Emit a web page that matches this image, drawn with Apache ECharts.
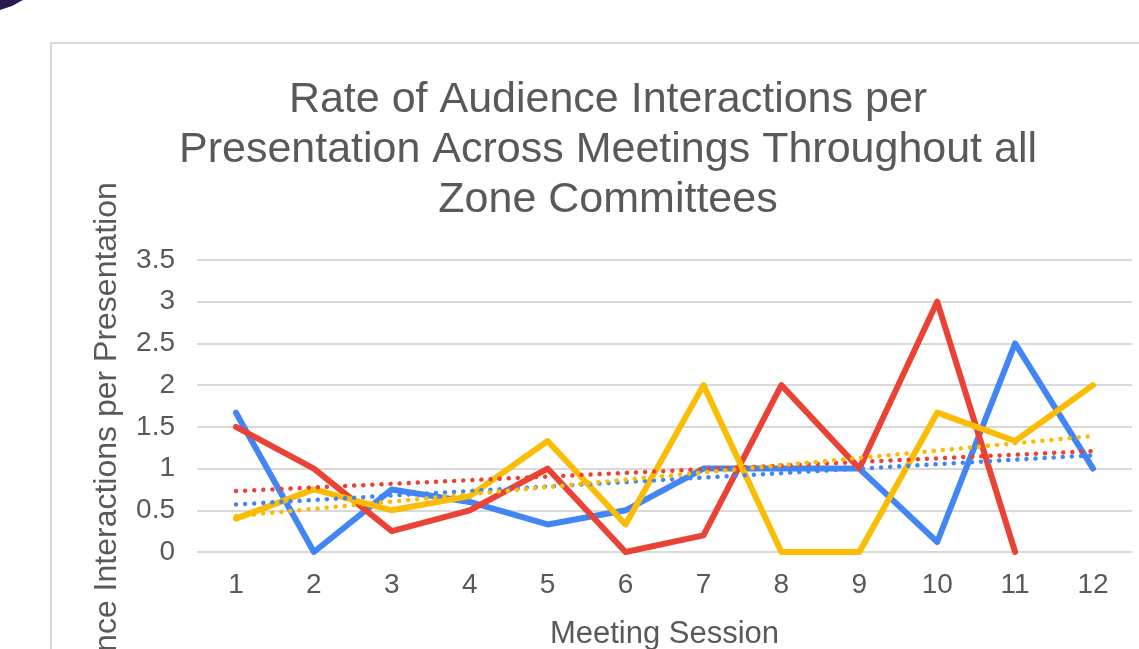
<!DOCTYPE html>
<html>
<head>
<meta charset="utf-8">
<script src="https://cdn.jsdelivr.net/npm/echarts@6/dist/echarts.min.js"></script>
<style>
  html, body { margin: 0; padding: 0; background: #fff; }
  #main { width: 1139px; height: 649px; }
</style>
</head>
<body>
<div id="main"></div>
<script>
// meeting sessions on the x axis
const sessions = ["1", "2", "3", "4", "5", "6", "7", "8", "9", "10", "11", "12"];

// rate per presentation, one list per committee line
const blueRates = [1.67, 0, 0.75, 0.6, 0.33, 0.5, 1, 1, 1, 0.12, 2.5, 1];
const redRates = [1.5, 1, 0.25, 0.5, 1, 0, 0.2, 2, 1, 3, 0, null];
const yellowRates = [0.4, 0.75, 0.5, 0.67, 1.33, 0.33, 2, 0, 0, 1.67, 1.33, 2];

// dotted trendlines, start value at session 1 and end value at session 12
const blueTrend = [0.57, 1.16];
const redTrend = [0.73, 1.21];
const yellowTrend = [0.43, 1.39];

const yTicks = [0, 0.5, 1, 1.5, 2, 2.5, 3, 3.5];

const textColor = "#595959";
const font = "'Liberation Sans', Arial, sans-serif";

function trendData(ends) {
  // only the two ends are set, the line is drawn straight between them
  let arr = sessions.map(() => null);
  arr[0] = ends[0];
  arr[arr.length - 1] = ends[1];
  return arr;
}

function solidLine(name, data, color) {
  return {
    name: name,
    type: "line",
    data: data,
    symbol: "none",
    lineStyle: { color: color, width: 6, join: "round", cap: "round" },
    z: 2
  };
}

function dottedLine(name, ends, color) {
  return {
    name: name,
    type: "line",
    data: trendData(ends),
    connectNulls: true,
    symbol: "none",
    lineStyle: { color: color, width: 4.5, type: [0.1, 9], cap: "round" },
    z: 3
  };
}

let chart = echarts.init(document.getElementById("main"));
chart.setOption({
  animation: false,
  backgroundColor: "#fff",
  title: {
    text: "Rate of Audience Interactions per\nPresentation Across Meetings Throughout all\nZone Committees",
    left: 603,
    top: 70,
    textAlign: "center",
    textStyle: {
      color: textColor,
      fontFamily: font,
      fontWeight: "normal",
      fontSize: 43,
      lineHeight: 50
    }
  },
  grid: {
    left: 197,
    right: 7,
    top: 260,
    bottom: 97,
    outerBoundsMode: "none",
    containLabel: false
  },
  xAxis: {
    type: "category",
    data: sessions,
    boundaryGap: true,
    axisLine: { show: false },
    axisTick: { show: false },
    axisLabel: {
      color: textColor,
      fontFamily: font,
      fontSize: 28,
      margin: 19
    },
    name: "Meeting Session",
    nameLocation: "middle",
    nameGap: 67,
    nameTextStyle: { color: textColor, fontFamily: font, fontSize: 31 }
  },
  yAxis: {
    type: "value",
    min: 0,
    max: 3.5,
    interval: 0.5,
    axisLine: { show: false },
    axisTick: { show: false },
    axisLabel: {
      color: textColor,
      fontFamily: font,
      fontSize: 28,
      margin: 22,
      formatter: v => (yTicks.includes(v) ? String(v) : "")
    },
    splitLine: { lineStyle: { color: "#d9d9d9", width: 2 } }
  },
  graphic: [
    {
      type: "rect",
      shape: { x: 51, y: 43, width: 1200, height: 800 },
      style: { fill: "none", stroke: "#d9d9d9", lineWidth: 2 },
      silent: true
    },
    {
      type: "polygon",
      shape: { points: [[0, 0], [23, 0], [12, 6], [0, 10]] },
      style: { fill: "#2b1a4f" },
      silent: true
    },
    {
      type: "text",
      x: 107,
      y: 458,
      rotation: Math.PI / 2,
      style: {
        text: "Audience Interactions per Presentation",
        fill: textColor,
        font: "32px " + font,
        align: "center",
        verticalAlign: "middle"
      },
      silent: true
    }
  ],
  series: [
    solidLine("Blue", blueRates, "#4285F4"),
    solidLine("Red", redRates, "#EA4335"),
    solidLine("Yellow", yellowRates, "#FBBC04"),
    dottedLine("Blue trend", blueTrend, "#4285F4"),
    dottedLine("Red trend", redTrend, "#EA4335"),
    dottedLine("Yellow trend", yellowTrend, "#FBBC04")
  ]
});
</script>
</body>
</html>
